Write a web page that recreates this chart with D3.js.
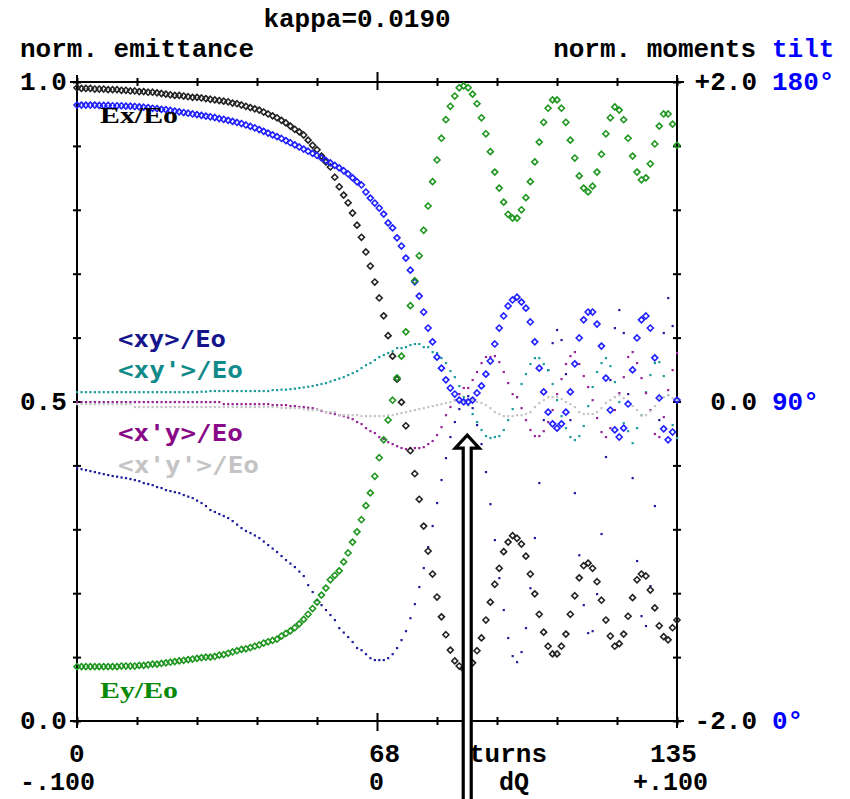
<!DOCTYPE html>
<html lang="en">
<head>
<meta charset="UTF-8">
<title>kappa=0.0190</title>
<script src="https://d3js.org/d3.v7.min.js"></script>
<style>
  html, body { margin: 0; padding: 0; background: #fff; }
  text { font-family: 'Liberation Mono', monospace; font-weight: bold; }
</style>
</head>
<body>
<div id="chart"></div>
<script>
// turns 0..135, one sample per turn
const turns = d3.range(0, 136);

// normalised emittances (left axis, 0..1)
const exEo = [
  0.991,0.990,0.990,0.990,0.989,0.989,0.989,0.988,0.988,0.988,0.987,0.987,0.986,
  0.986,0.985,0.985,0.984,0.984,0.983,0.982,0.981,0.980,0.979,0.979,0.978,0.977,
  0.976,0.976,0.975,0.974,0.973,0.972,0.971,0.970,0.969,0.967,0.966,0.964,
  0.962,0.960,0.958,0.956,0.953,0.950,0.947,0.944,0.940,0.936,0.931,0.926,
  0.922,0.917,0.909,0.901,0.894,0.884,0.875,0.867,0.851,0.836,
  0.823,0.811,0.795,0.776,0.757,0.734,0.712,0.687,0.662,0.634,
  0.603,0.571,0.535,0.499,0.462,0.423,0.387,0.347,0.305,0.266,
  0.230,0.194,0.163,0.135,0.111,0.094,0.086,0.081,0.081,0.091,
  0.110,0.130,0.158,0.186,0.214,0.239,0.265,0.280,0.290,0.286,
  0.277,0.258,0.230,0.199,0.167,0.139,0.117,0.105,0.105,0.117,
  0.136,0.167,0.196,0.224,0.243,0.247,0.239,0.218,0.189,0.158,
  0.133,0.117,0.121,0.136,0.164,0.193,0.221,0.230,0.227,0.205,
  0.177,0.149,0.132,0.127,0.146,0.158
];
const eyEo = [
  0.085,0.085,0.085,0.085,0.085,0.085,0.085,0.085,0.085,0.085,
  0.086,0.086,0.086,0.086,0.087,0.087,0.088,0.089,0.089,0.090,
  0.091,0.092,0.093,0.094,0.095,0.096,0.097,0.098,0.099,0.100,
  0.100,0.101,0.103,0.104,0.106,0.108,0.110,0.112,0.113,0.115,
  0.117,0.119,0.122,0.124,0.126,0.128,0.133,0.137,0.141,0.146,
  0.152,0.159,0.167,0.176,0.186,0.197,0.208,0.221,0.228,0.235,
  0.249,0.263,0.280,0.296,0.315,0.337,0.357,0.383,0.412,0.440,
  0.471,0.502,0.537,0.571,0.609,0.650,0.689,0.728,0.768,0.806,
  0.844,0.878,0.912,0.941,0.962,0.978,0.991,0.994,0.991,0.981,
  0.966,0.944,0.919,0.891,0.859,0.834,0.812,0.793,0.787,0.787,
  0.800,0.819,0.844,0.875,0.906,0.937,0.959,0.972,0.972,0.959,
  0.937,0.909,0.881,0.853,0.834,0.828,0.837,0.859,0.887,0.919,
  0.944,0.961,0.956,0.941,0.912,0.884,0.859,0.847,0.850,0.872,
  0.903,0.931,0.950,0.950,0.934,0.901
];

// tilt angle in degrees (blue axis, 0..180)
const tilt = [
  173.5,173.5,173.5,173.5,173.5,173.4,173.4,173.4,173.3,173.3,
  173.3,173.2,173.2,173.1,173.0,172.9,172.8,172.6,172.5,172.3,
  172.2,172.0,171.8,171.6,171.4,171.2,171.0,170.8,170.6,170.4,
  170.2,170.0,169.7,169.5,169.2,168.9,168.6,168.3,167.9,167.5,
  167.1,166.6,166.1,165.6,165.1,164.6,164.1,163.5,162.9,162.3,
  161.7,161.1,160.5,159.9,159.3,158.6,157.9,157.2,156.5,155.8,
  155.0,154.1,153.0,151.9,151.0,149.0,147.3,145.9,144.5,142.8,
  140.3,138.9,136.1,133.8,130.4,127.0,123.7,119.7,115.2,110.7,
  106.8,102.5,99.4,96.1,93.8,92.1,90.4,89.9,89.9,90.4,
  92.4,94.4,97.7,101.4,106.2,110.7,114.1,116.9,118.6,119.4,
  118.0,116.3,112.4,106.8,99.4,92.7,87.0,83.7,82.5,83.7,
  87.0,92.7,100.6,107.9,113.0,115.2,115.2,111.8,105.6,96.6,
  87.6,82.0,80.0,82.5,89.3,98.9,107.9,113.0,114.1,110.7,
  102.3,91.0,82.3,79.2,81.4,90.4
];

// normalised moments (right axis, -2..+2)
const xyEo = [
  -0.416,-0.423,-0.429,-0.435,-0.441,-0.448,-0.454,-0.460,-0.466,-0.470,
  -0.475,-0.479,-0.485,-0.491,-0.498,-0.510,-0.516,-0.523,-0.535,-0.541,
  -0.554,-0.560,-0.567,-0.573,-0.585,-0.595,-0.604,-0.620,-0.635,-0.654,
  -0.679,-0.691,-0.704,-0.716,-0.729,-0.748,-0.770,-0.792,-0.810,-0.823,
  -0.838,-0.854,-0.876,-0.898,-0.920,-0.942,-0.967,-0.992,-1.014,-1.036,
  -1.064,-1.092,-1.149,-1.192,-1.243,-1.274,-1.305,-1.336,-1.368,-1.418,
  -1.446,-1.474,-1.505,-1.543,-1.556,-1.581,-1.606,-1.618,-1.618,-1.618,
  -1.606,-1.581,-1.543,-1.493,-1.437,-1.356,-1.268,-1.161,-1.042,-0.911,
  -0.779,-0.635,-0.491,-0.354,-0.222,-0.128,-0.047,0.009,0.034,-0.041,
  -0.147,-0.266,-0.441,-0.642,-0.867,-1.105,-1.305,-1.480,-1.593,-1.631,
  -1.568,-1.418,-1.168,-0.854,-0.510,-0.116,0.197,0.366,0.448,0.385,
  0.172,-0.116,-0.573,-0.962,-1.274,-1.449,-1.437,-1.205,-0.829,-0.347,
  0.135,0.460,0.573,0.429,0.047,-0.479,-0.998,-1.343,-1.405,-1.155,
  -0.654,-0.116,0.429,0.648,0.473,0.009
];
const xypEo = [
  0.059,0.059,0.059,0.059,0.059,0.059,0.059,0.059,0.059,0.059,
  0.059,0.059,0.059,0.059,0.059,0.059,0.059,0.059,0.059,0.059,
  0.059,0.059,0.059,0.059,0.059,0.059,0.059,0.059,0.062,0.062,
  0.066,0.066,0.066,0.066,0.066,0.066,0.066,0.066,0.066,0.066,
  0.066,0.066,0.066,0.066,0.072,0.072,0.075,0.075,0.078,0.081,
  0.085,0.089,0.093,0.097,0.104,0.110,0.116,0.126,0.135,0.144,
  0.153,0.166,0.178,0.191,0.210,0.228,0.241,0.260,0.279,0.291,
  0.304,0.316,0.335,0.335,0.341,0.354,0.360,0.360,0.341,0.341,
  0.310,0.304,0.272,0.241,0.191,0.153,0.097,0.028,-0.022,-0.078,
  -0.128,-0.178,-0.216,-0.228,-0.222,-0.216,-0.178,-0.116,-0.047,0.028,
  0.110,0.172,0.235,0.272,0.272,0.235,0.197,0.110,0.009,-0.091,
  -0.166,-0.222,-0.241,-0.216,-0.153,-0.028,0.091,0.185,0.241,0.272,
  0.222,0.122,-0.003,-0.135,-0.185,-0.260,-0.166,-0.085,0.059,0.166,
  0.241,0.247,0.160,0.041,-0.147,-0.228
];
const xpyEo = [
  -0.003,-0.003,-0.003,-0.003,-0.003,-0.003,-0.003,-0.003,-0.003,-0.003,
  -0.003,-0.003,-0.003,-0.003,-0.003,-0.003,-0.003,-0.003,-0.003,-0.003,
  -0.003,-0.003,-0.003,-0.003,-0.003,-0.003,-0.003,-0.003,-0.003,-0.003,
  -0.003,-0.003,-0.003,-0.016,-0.016,-0.016,-0.016,-0.016,-0.016,-0.016,
  -0.016,-0.016,-0.016,-0.016,-0.022,-0.022,-0.022,-0.022,-0.028,-0.028,
  -0.034,-0.034,-0.038,-0.041,-0.050,-0.058,-0.066,-0.072,-0.078,-0.085,
  -0.091,-0.100,-0.110,-0.128,-0.141,-0.166,-0.185,-0.197,-0.222,-0.235,
  -0.254,-0.266,-0.279,-0.291,-0.297,-0.291,-0.291,-0.291,-0.285,-0.266,
  -0.247,-0.210,-0.160,-0.085,-0.034,0.009,0.047,0.085,0.085,0.135,
  0.185,0.241,0.279,0.279,0.285,0.247,0.185,0.116,0.047,0.028,
  -0.041,-0.116,-0.178,-0.216,-0.216,-0.185,-0.128,-0.053,0.047,0.141,
  0.235,0.285,0.310,0.235,0.160,0.091,0.009,-0.103,-0.191,-0.222,
  -0.166,-0.053,0.053,0.153,0.279,0.310,0.241,0.147,0.053,-0.053,
  -0.203,-0.222,-0.097,0.072,0.197,0.304
];
const xpypEo = [
  -0.016,-0.016,-0.016,-0.016,-0.016,-0.016,-0.016,-0.016,-0.016,-0.016,
  -0.016,-0.016,-0.016,-0.034,-0.034,-0.034,-0.034,-0.034,-0.034,-0.034,
  -0.034,-0.034,-0.034,-0.034,-0.034,-0.034,-0.034,-0.034,-0.034,-0.034,
  -0.034,-0.034,-0.034,-0.034,-0.034,-0.034,-0.034,-0.034,-0.034,-0.034,
  -0.034,-0.034,-0.034,-0.034,-0.034,-0.034,-0.041,-0.041,-0.041,-0.041,
  -0.041,-0.047,-0.053,-0.053,-0.053,-0.053,-0.066,-0.066,-0.066,-0.085,
  -0.085,-0.085,-0.085,-0.085,-0.091,-0.091,-0.091,-0.091,-0.091,-0.091,
  -0.085,-0.085,-0.078,-0.072,-0.066,-0.059,-0.053,-0.047,-0.041,-0.034,
  -0.028,-0.022,-0.016,-0.009,-0.003,0.009,0.003,0.003,0.009,0.009,
  -0.003,-0.009,-0.022,-0.041,-0.066,-0.078,-0.091,-0.091,-0.091,-0.085,
  -0.085,-0.078,-0.066,-0.034,-0.009,0.009,0.028,0.028,0.028,0.016,
  -0.003,-0.016,-0.034,-0.066,-0.078,-0.078,-0.078,-0.066,-0.041,-0.009,
  0.009,0.028,0.041,0.022,-0.003,-0.028,-0.053,-0.085,-0.085,-0.059,
  -0.028,0.022,0.028,0.041,0.022,0.009
];

// axis labels
const emitLabels = ["0.0", "0.5", "1.0"];
const momentLabels = ["-2.0", "0.0", "+2.0"];
const tiltLabels = ["0°", "90°", "180°"];
const turnLabels = ["0", "68", "135"];
const dqLabels = ["-.100", "0", "+.100"];
const arrowTurn = 87.8;

const W = 850, H = 799;
const x = d3.scaleLinear().domain([0, 135]).range([77, 677]);
const yE = d3.scaleLinear().domain([0, 1]).range([721, 82]);
const yM = d3.scaleLinear().domain([-2, 2]).range([721, 82]);
const yT = d3.scaleLinear().domain([0, 180]).range([721, 82]);

const svg = d3.select("#chart").append("svg")
  .attr("width", W).attr("height", H)
  .style("display", "block");

// frame + ticks
const tickTurns = d3.range(11).map(i => i * 13.5);
const tickEmit = d3.range(11).map(i => i / 10);

const gTop = svg.append("g").attr("transform", `translate(0,${yE(1)})`)
  .call(d3.axisTop(x).tickValues(tickTurns).tickSize(4).tickFormat(""));
const gBot = svg.append("g").attr("transform", `translate(0,${yE(0)})`)
  .call(d3.axisBottom(x).tickValues(tickTurns).tickSize(4).tickFormat(""));
const gLeft = svg.append("g").attr("transform", `translate(${x(0)},0)`)
  .call(d3.axisLeft(yE).tickValues(tickEmit).tickSize(4).tickFormat(""));
const gRight = svg.append("g").attr("transform", `translate(${x(135)},0)`)
  .call(d3.axisRight(yE).tickValues(tickEmit).tickSize(4).tickFormat(""));

[gTop, gBot].forEach((g, i) => {
  g.select(".domain").attr("d", `M${x(0) - 7},0H${x(135) + 7}`);
  g.selectAll(".tick line").attr("y1", i ? -4 : 4);
  g.selectAll(".tick").filter(d => d === 67.5).select("line")
    .attr("y1", i ? -8 : 8).attr("y2", i ? 10 : -10);
});
[gLeft, gRight].forEach(g => {
  g.select(".domain").attr("d", `M0,${yE(1) - 7}V${yE(0) + 7}`);
  g.selectAll(".tick line").attr("x1", g === gLeft ? 4 : -4);
});
svg.selectAll(".domain, .tick line").attr("stroke", "#000").attr("stroke-width", 2);

// moments: small dots
const dotSeries = [
  { vals: xyEo, color: "#1c1c9c" },
  { vals: xypEo, color: "#1a9a9a" },
  { vals: xpyEo, color: "#962096" },
  { vals: xpypEo, color: "#c4c4c4" }
];
dotSeries.forEach(s => {
  svg.append("g").selectAll("rect")
    .data(turns)
    .join("rect")
    .attr("x", t => x(t) - 1)
    .attr("y", t => yM(s.vals[t]) - 1)
    .attr("width", 2.2).attr("height", 2.2)
    .attr("fill", s.color);
});

// emittances and tilt: small open diamonds
const diamond = "M0,-3L3,0L0,3L-3,0Z";
const diaSeries = [
  { vals: exEo, y: yE, color: "#222" },
  { vals: tilt, y: yT, color: "#2020ff" },
  { vals: eyEo, y: yE, color: "#1f961f" }
];
diaSeries.forEach(s => {
  svg.append("g").selectAll("path")
    .data(turns)
    .join("path")
    .attr("d", diamond)
    .attr("transform", t => `translate(${x(t)},${s.y(s.vals[t])})`)
    .attr("fill", "none")
    .attr("stroke", s.color)
    .attr("stroke-width", 1.6);
});

// titles
const fs = "26px";
svg.append("text").attr("x", 357).attr("y", 27).attr("text-anchor", "middle")
  .style("font-size", fs).text("kappa=0.0190");
svg.append("text").attr("x", 20).attr("y", 57).style("font-size", fs).text("norm. emittance");
svg.append("text").attr("x", 756).attr("y", 57).attr("text-anchor", "end")
  .style("font-size", fs).text("norm. moments");
svg.append("text").attr("x", 772).attr("y", 57).attr("fill", "#0000ff")
  .style("font-size", fs).text("tilt");

// y labels
const levels = [0, 0.5, 1];
levels.forEach((v, i) => {
  const yy = yE(v) + 8;
  svg.append("text").attr("x", 20).attr("y", yy).style("font-size", fs).text(emitLabels[i]);
  svg.append("text").attr("x", 757).attr("y", yy).attr("text-anchor", "end")
    .style("font-size", fs).text(momentLabels[i]);
  svg.append("text").attr("x", 772).attr("y", yy).attr("fill", "#0000ff")
    .style("font-size", fs).text(tiltLabels[i]);
});

// x labels
const labTurns = [0, 67.5, 135];
const rowTurn = [ -8, -8, -27 ];
const rowDq = [ -57, -8, -44 ];
labTurns.forEach((t, i) => {
  svg.append("text").attr("x", x(t) + rowTurn[i]).attr("y", 762).style("font-size", fs).text(turnLabels[i]);
  svg.append("text").attr("x", x(t) + rowDq[i]).attr("y", 790).style("font-size", "25px").text(dqLabels[i]);
});
svg.append("text").attr("x", 469).attr("y", 762).style("font-size", fs).text("turns");
svg.append("text").attr("x", 499).attr("y", 790).style("font-size", "25px").text("dQ");

// legend labels
const legend = [
  { text: "Ex/Eo", x: 100, y: 123, color: "#000", serif: true, len: 78 },
  { text: "<xy>/Eo", x: 118, y: 347, color: "#14148c", len: 108 },
  { text: "<xy'>/Eo", x: 118, y: 378, color: "#118a8a", len: 125 },
  { text: "<x'y>/Eo", x: 118, y: 441, color: "#880a88", len: 125 },
  { text: "<x'y'>/Eo", x: 118, y: 473, color: "#c4c4c4", len: 141 },
  { text: "Ey/Eo", x: 100, y: 698, color: "#0a8a0a", serif: true, len: 78 }
];
legend.forEach(l => {
  svg.append("text").attr("x", l.x).attr("y", l.y).attr("fill", l.color)
    .attr("textLength", l.len).attr("lengthAdjust", "spacingAndGlyphs")
    .style("font-family", l.serif ? "'Liberation Serif', serif" : "'DejaVu Sans Mono', monospace")
    .style("font-size", l.serif ? "24px" : "23px")
    .text(l.text);
});

// double-shafted arrow pointing at the crossing
const ax = x(arrowTurn);
const arrowTop = yM(-0.21);
svg.append("path")
  .attr("d", `M${ax - 4},${H}V${arrowTop + 13}H${ax - 12}L${ax},${arrowTop}L${ax + 12},${arrowTop + 13}H${ax + 4}V${H}`)
  .attr("fill", "#fff").attr("stroke", "#000").attr("stroke-width", 3.2)
  .attr("stroke-linejoin", "miter");
</script>
</body>
</html>
